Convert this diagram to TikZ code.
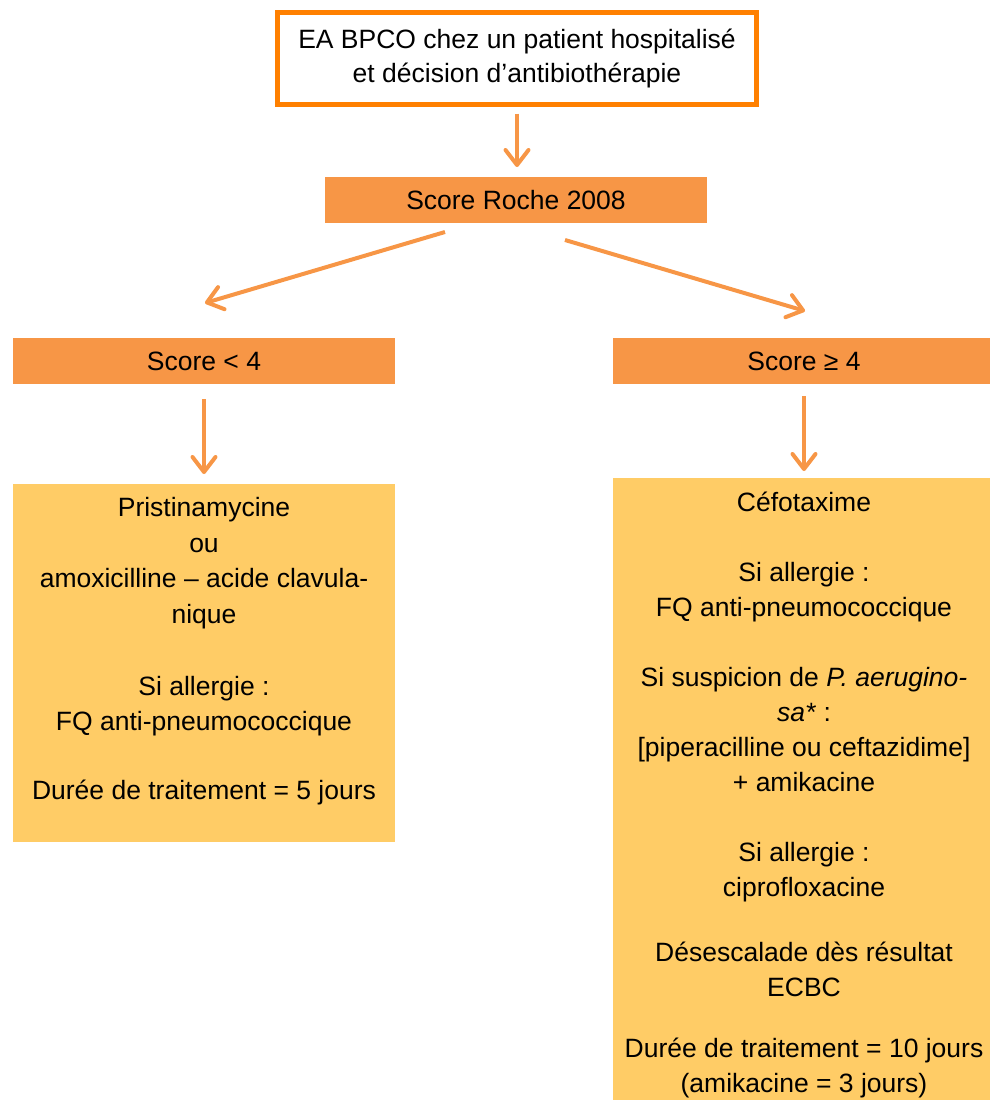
\documentclass[tikz,border=0pt]{standalone}
\usepackage{fontspec}
\setmainfont{Liberation Sans}
\usetikzlibrary{arrows.meta}
\definecolor{orbox}{HTML}{F79646}
\definecolor{yebox}{HTML}{FFCC66}
\definecolor{orline}{HTML}{FF8000}
\begin{document}
\begin{tikzpicture}[x=1pt,y=-1pt,
  every node/.style={outer sep=0pt, inner sep=0pt},
  txt/.style={font=\fontsize{26.5}{35.7}\selectfont, align=center, text=black},
  scorebox/.style={fill=orbox, minimum width=382pt, minimum height=46pt,
    font=\fontsize{26.5}{32}\selectfont, text=black, text height=19pt, text depth=0pt},
  yellowbox/.style={fill=yebox, minimum width=382pt, anchor=north},
  topbox/.style={draw=orline, line width=5pt, fill=white, minimum width=479pt,
    minimum height=92pt, font=\fontsize{26.5}{34}\selectfont, align=center, text=black},
  arr/.style={draw=orbox, line width=4pt, -{Straight Barb[length=15pt,width=23pt,round]}}
]
\useasboundingbox (0,0) rectangle (989,1100);

\node[topbox] (top) at (517,58.5) {EA BPCO chez un patient hospitalisé\\et décision d’antibiothérapie};

\node[scorebox] (roche) at (516,200) {Score Roche 2008};
\node[scorebox] (lt) at (204,361) {Score < 4};
\node[scorebox] (rt) at (804,361) {Score ≥ 4};

\node[yellowbox, minimum height=358pt] (ly) at (204,484) {};
\node[txt, anchor=north] (lytext) at (204,496.5) {\rule{0pt}{20pt}Pristinamycine\\
ou\\
amoxicilline – acide clavula-\\
nique\\[35.7pt]
Si allergie :\\
FQ anti-pneumococcique\\[33.5pt]
Durée de traitement = 5 jours};

\node[yellowbox, minimum height=640pt] (ry) at (804,478) {};
\node[txt, anchor=north, font=\fontsize{26.5}{35}\selectfont] (rytext) at (804,491) {\rule{0pt}{20pt}Céfotaxime\\[35pt]
Si allergie :\\
FQ anti-pneumococcique\\[35pt]
Si suspicion de \textit{P. aerugino-}\\
\textit{sa*} :\\
{[}piperacilline ou ceftazidime{]}\\
+ amikacine\\[35pt]
Si allergie :\\
ciprofloxacine\\[30pt]
Désescalade dès résultat\\
ECBC\\[26pt]
Durée de traitement = 10 jours\\
(amikacine = 3 jours)};

\draw[arr, shorten <=9pt, shorten >=10pt] (top.south) -- (top.south |- roche.north);
\draw[arr] ([shift={(-71,9)}]roche.south) -- ([shift={(1,-35)}]lt.north);
\draw[arr] ([shift={(49,17)}]roche.south) -- ([shift={(1,-27)}]rt.north);
\draw[arr, shorten <=15pt, shorten >=10pt] (lt.south) -- (ly.north);
\draw[arr, shorten <=12pt, shorten >=7pt] (rt.south) -- (ry.north);
\end{tikzpicture}
\end{document}
